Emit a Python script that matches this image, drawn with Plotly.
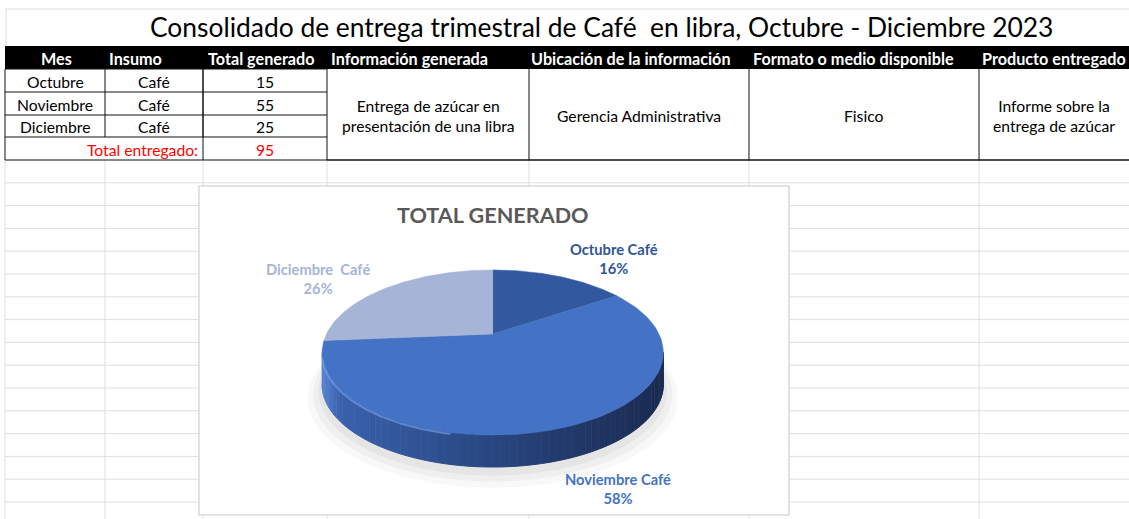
import numpy as np
import plotly.graph_objects as go

# ---------------- data ----------------
sheet_title = "Consolidado de entrega trimestral de Café  en libra, Octubre - Diciembre 2023"
headers = ["Mes", "Insumo", "Total generado", "Información generada",
           "Ubicación de la información", "Formato o medio disponible", "Producto entregado"]
months = ["Octubre", "Noviembre", "Diciembre"]
insumos = ["Café", "Café", "Café"]
totals = [15, 55, 25]
info_generada = "Entrega de azúcar en<br>presentación de una libra"
ubicacion = "Gerencia Administrativa"
formato = "Fisico"
producto = "Informe sobre la<br>entrega de azúcar"
total_label = "Total entregado:"
chart_title = "TOTAL GENERADO"
pie_labels = ["Octubre Café", "Noviembre Café", "Diciembre  Café"]

# ---------------- styles / layout ----------------
W, H = 1129, 519
FONT = "Lato"
BODY = 15.7
slice_colors = ["#3259A0", "#4472C4", "#A6B4D7"]
label_colors = ["#2F559A", "#4472C4", "#A6B4D7"]
col_x = [5, 105, 203, 327, 529, 749, 979, 1129]
header_x = [56.5, 135, 261, 409, 631, 853.5, 1054]
row_y = [46, 69, 92, 115, 137, 160]
grid_color = "#DEDEDE"
chart_box = (199, 186, 789, 515)

fig = go.Figure()
shapes = []
ann = []

def line(x0, y0, x1, y1, color, width=1, layer="below"):
    shapes.append(dict(type="line", x0=x0, y0=y0, x1=x1, y1=y1, xref="x", yref="y",
                       line=dict(color=color, width=width), layer=layer))

# spreadsheet grid below the table
gy = 160.0
while gy < H:
    gy += 22.8
    line(5, gy, W, gy, grid_color)
for cx_ in col_x[:-1]:
    line(cx_, 160, cx_, H, grid_color)
# title row border
line(5, 9, W, 9, grid_color)
line(6, 9, 6, 46, grid_color)

# chart area
shapes.append(dict(type="rect", x0=chart_box[0], y0=chart_box[1], x1=chart_box[2], y1=chart_box[3],
                   xref="x", yref="y", fillcolor="white", line=dict(color="#D9D9D9", width=1.5),
                   layer="below"))

# header band
shapes.append(dict(type="rect", x0=5, y0=row_y[0], x1=W, y1=row_y[1], xref="x", yref="y",
                   fillcolor="black", line=dict(width=0), layer="below"))

# table borders
blk = "#111111"
for yy in row_y[1:]:
    line(5, yy, col_x[3], yy, blk)
line(col_x[3], row_y[-1], W, row_y[-1], blk, 1.5)
line(5, row_y[1], 5, row_y[-1], blk)
for cx_ in col_x[1:3]:
    line(cx_, row_y[1], cx_, row_y[4], blk)
for cx_ in col_x[2:7]:
    line(cx_, row_y[1], cx_, row_y[-1], blk)

# title
ann.append(dict(x=601, y=27, text=sheet_title, font=dict(family=FONT, size=26.4, color="black")))
# headers
for i, h in enumerate(headers):
    ann.append(dict(x=header_x[i], y=(row_y[0] + row_y[1]) / 2 + 1, text="<b>%s</b>" % h,
                    font=dict(family=FONT, size=16.2, color="white")))
# data rows
for r in range(3):
    yc = (row_y[r + 1] + row_y[r + 2]) / 2 + 1
    for c, val in enumerate([months[r], insumos[r], str(totals[r])]):
        ann.append(dict(x=(col_x[c] + col_x[c + 1]) / 2, y=yc, text=val,
                        font=dict(family=FONT, size=BODY, color="black")))
yc = (row_y[4] + row_y[5]) / 2 + 1
ann.append(dict(x=col_x[2] - 3, y=yc, text=total_label, xanchor="right",
                font=dict(family=FONT, size=BODY, color="#FF0000")))
ann.append(dict(x=(col_x[2] + col_x[3]) / 2, y=yc, text=str(sum(totals)),
                font=dict(family=FONT, size=BODY, color="#FF0000")))
ymid = (row_y[1] + row_y[-1]) / 2 + 1
for c, val in zip([3, 4, 5, 6], [info_generada, ubicacion, formato, producto]):
    ann.append(dict(x=(col_x[c] + col_x[c + 1]) / 2, y=ymid, text=val,
                    font=dict(family=FONT, size=BODY, color="black")))

# chart title
ann.append(dict(x=493, y=215, text="<b>%s</b>" % chart_title, font=dict(family=FONT, size=21.6, color="#595959")))

# ---------------- 3D pie (perspective projection of a disc) ----------------
PCX, PCY, PA, PB, PK, DEPTH = 492.7, 334.0, 166.3, 78.4, 0.224, 32.0
vals = np.array(totals, dtype=float)
frac = vals / vals.sum()
bounds = np.concatenate([[0], np.cumsum(frac)]) * 2 * np.pi

def proj(theta, dy=0.0, scale=1.0):
    u, v = np.sin(theta) * scale, np.cos(theta) * scale
    d = 1 + PK * v
    return PCX + PA * u / d, PCY + dy - PB * v / d

# soft shadow
t = np.linspace(0, 2 * np.pi, 240)
for sc, dy, op in [(1.08, DEPTH + 10, 0.04), (1.05, DEPTH + 8, 0.05), (1.02, DEPTH + 6, 0.06)]:
    sx, sy = proj(t, dy=dy, scale=sc)
    fig.add_trace(go.Scatter(x=sx, y=sy, fill="toself", mode="lines", line=dict(width=0),
                             fillcolor="rgba(80,80,80,%.2f)" % op, hoverinfo="skip", showlegend=False))

# side (front rim) with horizontal shading
def mix(c1, c2, s):
    return tuple(int(round(c1[i] + (c2[i] - c1[i]) * s)) for i in range(3))
cL, cM, cR = (60, 100, 178), (40, 70, 128), (26, 42, 80)
thR = np.arccos(-PK)
thL = 2 * np.pi - thR
N = 70
thetas = np.linspace(thL, thR, N + 1)
xmin, xmax = PCX - PA * 1.026, PCX + PA * 1.026
for i in range(N):
    tt = np.linspace(thetas[i], thetas[i + 1], 5)
    xt, yt = proj(tt)
    xb, yb = proj(tt[::-1], dy=DEPTH)
    pos = (np.mean(xt) - xmin) / (xmax - xmin)
    col = mix(cL, cM, pos * 2) if pos < 0.5 else mix(cM, cR, (pos - 0.5) * 2)
    if pos < 0.05:
        col = mix((88, 130, 210), cL, pos / 0.05)
    rgb = "rgb(%d,%d,%d)" % col
    fig.add_trace(go.Scatter(x=np.concatenate([xt, xb]), y=np.concatenate([yt, yb]), fill="toself",
                             mode="lines", line=dict(width=1, color=rgb), fillcolor=rgb,
                             hoverinfo="skip", showlegend=False))

# top face slices
for i in range(len(vals)):
    tt = np.linspace(bounds[i], bounds[i + 1], 100)
    ex, ey = proj(tt)
    px = np.concatenate([[PCX], ex, [PCX]])
    py = np.concatenate([[PCY], ey, [PCY]])
    fig.add_trace(go.Scatter(x=px, y=py, fill="toself", mode="lines",
                             line=dict(width=0.5, color=slice_colors[i]), fillcolor=slice_colors[i],
                             name=pie_labels[i], hoverinfo="name", showlegend=False))

# bevel highlight on the front edge
tt = np.linspace(thL - 0.05, np.pi + 0.2, 100)
hx, hy = proj(tt, dy=1.5)
fig.add_trace(go.Scatter(x=hx, y=hy, mode="lines", line=dict(color="rgba(125,165,235,0.6)", width=2),
                         hoverinfo="skip", showlegend=False))

# data labels
label_pos = [(614, 258), (618, 488), (318, 278)]
for i in range(len(vals)):
    pct = int(round(frac[i] * 100))
    ann.append(dict(x=label_pos[i][0], y=label_pos[i][1], text="<b>%s<br>%d%%</b>" % (pie_labels[i], pct),
                    font=dict(family=FONT, size=14.7, color=label_colors[i])))

for a_ in ann:
    a_.setdefault("xref", "x")
    a_.setdefault("yref", "y")
    a_.setdefault("showarrow", False)
    a_.setdefault("xanchor", "center")
    a_.setdefault("yanchor", "middle")

fig.update_layout(
    width=W, height=H, margin=dict(l=0, r=0, t=0, b=0),
    paper_bgcolor="white", plot_bgcolor="white",
    xaxis=dict(range=[0, W], visible=False, fixedrange=True),
    yaxis=dict(range=[H, 0], visible=False, fixedrange=True),
    shapes=shapes, annotations=ann, showlegend=False,
)
fig.write_html("out.html", config={"displayModeBar": False},
               post_script="document.body.style.margin='0';document.body.style.overflow='hidden';")
